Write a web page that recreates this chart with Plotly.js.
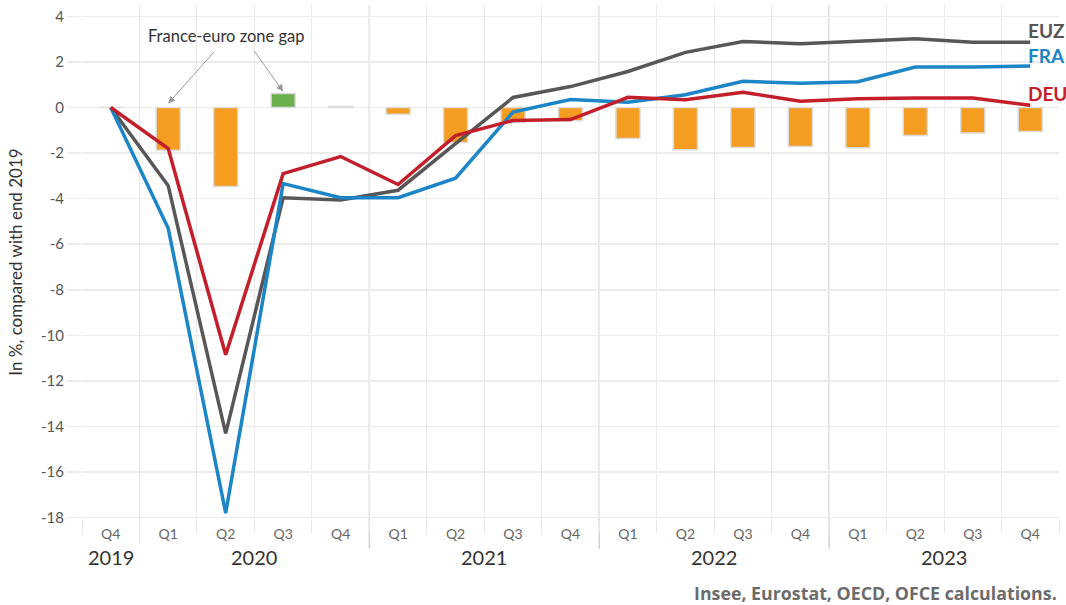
<!DOCTYPE html>
<html><head><meta charset="utf-8">
<script src="https://cdn.plot.ly/plotly-3.0.1.min.js"></script>
<style>html,body{margin:0;padding:0;background:#fff}#chart{width:1066px;height:605px}</style>
</head><body><div id="chart"></div>
<script>
const categories = ["2019 Q4","2020 Q1","2020 Q2","2020 Q3","2020 Q4","2021 Q1","2021 Q2","2021 Q3","2021 Q4","2022 Q1","2022 Q2","2022 Q3","2022 Q4","2023 Q1","2023 Q2","2023 Q3","2023 Q4"];
const quarterLabels = ["Q4","Q1","Q2","Q3","Q4","Q1","Q2","Q3","Q4","Q1","Q2","Q3","Q4","Q1","Q2","Q3","Q4"];
const years = ["2019","2020","2021","2022","2023"];
const yearCenters = [0, 2.5, 6.5, 10.5, 14.5];
const yearBoundaries = [4.5, 8.5, 12.5];
const EUZ = [0, -3.43, -14.3, -3.96, -4.06, -3.63, -1.58, 0.44, 0.92, 1.58, 2.42, 2.9, 2.8, 2.9, 3.02, 2.87, 2.87];
const FRA = [0, -5.3, -17.8, -3.34, -3.96, -3.96, -3.1, -0.2, 0.35, 0.23, 0.56, 1.15, 1.07, 1.13, 1.78, 1.78, 1.82];
const DEU = [0, -1.8, -10.85, -2.9, -2.15, -3.38, -1.23, -0.57, -0.53, 0.45, 0.34, 0.67, 0.28, 0.38, 0.42, 0.42, 0.1];
const gap = [0, -1.87, -3.47, 0.62, 0.05, -0.3, -1.53, -0.66, -0.58, -1.36, -1.85, -1.75, -1.71, -1.76, -1.23, -1.12, -1.05];
const yTickVals = [-18,-16,-14,-12,-10,-8,-6,-4,-2,0,2,4];
const yTickText = ["-18","-16","-14","-12","-10","-8","-6","-4","-2","0","2","4"];

const cEUZ = "#575757", cFRA = "#1b85c7", cDEU = "#c21f2b";
const FONT = "Lato, 'Open Sans', sans-serif";
const FONT2 = "'Open Sans', Lato, sans-serif";
const last = categories.length - 1;

const traces = [
  {type:"bar", x:categories, y:gap, width:0.42,
   marker:{color:gap.map(v => v > 0.3 ? "#6ab04c" : (v > 0 ? "#e3efe0" : "#f59d20")),
           line:{color:"#dcdcdc", width:1.5}},
   hoverinfo:"skip", showlegend:false},
  {type:"scatter", mode:"lines", x:categories, y:EUZ, name:"EUZ", line:{color:cEUZ, width:3.5}, showlegend:false},
  {type:"scatter", mode:"lines", x:categories, y:FRA, name:"FRA", line:{color:cFRA, width:3.5}, showlegend:false},
  {type:"scatter", mode:"lines", x:categories, y:DEU, name:"DEU", line:{color:cDEU, width:3.5}, showlegend:false}
];

const annotations = [
  {xref:"x", yref:"y", x:2, y:3.15, text:"France-euro zone gap", showarrow:false,
   font:{family:FONT, size:16.5, color:"#333"}},
  {xref:"x", yref:"y", x:categories[1], y:0.18, text:" ", showarrow:true, arrowhead:2, arrowsize:1.4,
   arrowwidth:1, arrowcolor:"#9a9a9a", ax:49, ay:-55},
  {xref:"x", yref:"y", x:categories[3], y:0.7, text:" ", showarrow:true, arrowhead:2, arrowsize:1.4,
   arrowwidth:1, arrowcolor:"#9a9a9a", ax:-32, ay:-45},
  {xref:"x", yref:"y", x:categories[last], y:EUZ[last], text:"EUZ", showarrow:false, xanchor:"left", yanchor:"middle",
   xshift:-4, yshift:12, font:{family:FONT, size:19, color:"#555", weight:"bold"}},
  {xref:"x", yref:"y", x:categories[last], y:FRA[last], text:"FRA", showarrow:false, xanchor:"left", yanchor:"middle",
   xshift:-4, yshift:11, font:{family:FONT, size:19, color:cFRA, weight:"bold"}},
  {xref:"x", yref:"y", x:categories[last], y:DEU[last], text:"DEU", showarrow:false, xanchor:"left", yanchor:"middle",
   xshift:-4, yshift:12, font:{family:FONT, size:19, color:cDEU, weight:"bold"}},
  {xref:"paper", yref:"paper", x:1.0, y:-0.143, xanchor:"right", yanchor:"middle",
   text:"Insee, Eurostat, OECD, OFCE calculations.", showarrow:false,
   font:{family:FONT2, size:17.8, color:"#6b6b6b", weight:"bold"}}
];
years.forEach((yr, i) => annotations.push({
  xref:"x", yref:"paper", x:yearCenters[i], y:-0.074, text:yr, showarrow:false, yanchor:"middle",
  font:{family:FONT, size:20, color:"#333"}
}));

const shapes = yearBoundaries.map(b => ({type:"line", xref:"x", yref:"paper", x0:b, x1:b, y0:-0.058, y1:1,
  line:{color:"#d2d2d2", width:1.5}, layer:"below"}));
shapes.push({type:"line", xref:"x", yref:"paper", x0:0.5, x1:0.5, y0:-0.048, y1:0, line:{color:"#e3e3e3", width:1}, layer:"below"});

const layout = {
  width:1066, height:605,
  margin:{l:82, r:7, t:5, b:86},
  paper_bgcolor:"#fff", plot_bgcolor:"#fff",
  font:{family:FONT, color:"#555"},
  showlegend:false,
  xaxis:{type:"category", tickmode:"array", tickvals:categories, ticktext:quarterLabels,
    tickson:"boundaries", showgrid:true, gridcolor:"#ebebeb", gridwidth:1,
    ticks:"outside", ticklen:13, tickcolor:"#e6e6e6", tickwidth:1,
    tickfont:{family:FONT, size:14, color:"#666"}, ticklabelstandoff:5,
    showline:false, zeroline:false, range:[-0.5, 16.5], fixedrange:true},
  yaxis:{range:[-18.06, 4.5], tickmode:"array", tickvals:yTickVals, ticktext:yTickText,
    showgrid:true, gridcolor:"#ebebeb", gridwidth:1.5, zeroline:false, showline:false,
    ticks:"outside", ticklen:14, tickcolor:"#ebebeb", tickwidth:1.5,
    tickfont:{family:FONT, size:15, color:"#555"},
    title:{text:"In %, compared with end 2019", standoff:14, font:{family:FONT, size:17, color:"#333"}}},
  annotations:annotations,
  shapes:shapes
};

Plotly.newPlot("chart", traces, layout, {displayModeBar:false, staticPlot:true});
</script></body></html>
